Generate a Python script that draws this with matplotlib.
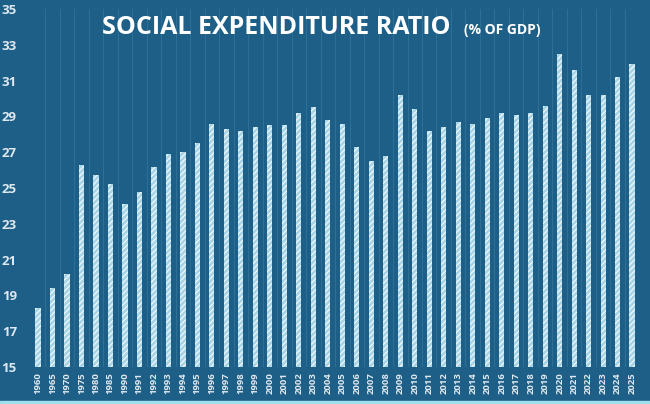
import matplotlib
matplotlib.use('Agg')
import matplotlib.pyplot as plt
from matplotlib.patches import Rectangle

# Jahre / Werte der Sozialleistungsquote
years = ['1960', '1965', '1970', '1975', '1980', '1985'] + [str(y) for y in range(1990, 2026)]
ratio = [18.3, 19.4, 20.2, 26.3, 25.7, 25.2,
         24.1, 24.8, 26.2, 26.9, 27.0, 27.5, 28.6, 28.3, 28.2, 28.4,
         28.5, 28.5, 29.2, 29.5, 28.8, 28.6, 27.3, 26.5, 26.8, 30.2,
         29.4, 28.2, 28.4, 28.7, 28.6, 28.9, 29.2, 29.1, 29.2, 29.6,
         32.5, 31.6, 30.2, 30.2, 31.2, 31.9]
y_ticks = [15, 17, 19, 21, 23, 25, 27, 29, 31, 33, 35]

bg = '#1e5f88'
grid_col = '#2c7098'
label_col = '#dfe8ee'

plt.rcParams['font.family'] = ['Open Sans', 'DejaVu Sans']
plt.rcParams['hatch.color'] = 'white'
plt.rcParams['hatch.linewidth'] = 0.7

fig = plt.figure(figsize=(6.5, 4.04), dpi=100, facecolor=bg)
ax = fig.add_axes([30.75 / 650, 1 - 367 / 404, 608.6 / 650, 358 / 404])
ax.set_facecolor(bg)

x = range(len(years))
ax.bar(x, [r - 15 for r in ratio], bottom=15, width=0.36, color='#a8d5e8',
       hatch='//////', linewidth=0, zorder=3)

ax.set_xlim(-0.5, len(years) - 0.5)
ax.set_ylim(15, 35)
ax.set_yticks(y_ticks)
ax.set_yticklabels([str(t) for t in y_ticks], fontsize=9.5, fontweight='bold', color=label_col)
ax.set_xticks(list(x))
ax.set_xticklabels(years, rotation=90, fontsize=6.8, fontweight='bold', color=label_col)
ax.tick_params(length=0, pad=4)
ax.tick_params(axis='y', pad=10)

# vertikale Trennlinien zwischen den Kategorien
ax.set_xticks([i + 0.5 for i in range(len(years) - 1)], minor=True)
ax.grid(which='minor', axis='x', color=grid_col, linewidth=0.8, zorder=0)
ax.tick_params(which='minor', length=0)
for s in ax.spines.values():
    s.set_visible(False)
ax.axhline(15, color='#2a6c93', linewidth=1, zorder=2)

fig.text(102 / 650, 1 - 34 / 404, 'SOCIAL EXPENDITURE RATIO', fontsize=18,
         fontweight='bold', color='white', ha='left', va='baseline')
fig.text(464 / 650, 1 - 34 / 404, '(% OF GDP)', fontsize=10,
         fontweight='bold', color='white', ha='left', va='baseline')

# heller Rand unten
fig.patches.append(Rectangle((0, 0), 1, 3 / 404, transform=fig.transFigure,
                             color='#9fe0ef', zorder=10))

fig.savefig('out.png', dpi=100, facecolor=bg)
